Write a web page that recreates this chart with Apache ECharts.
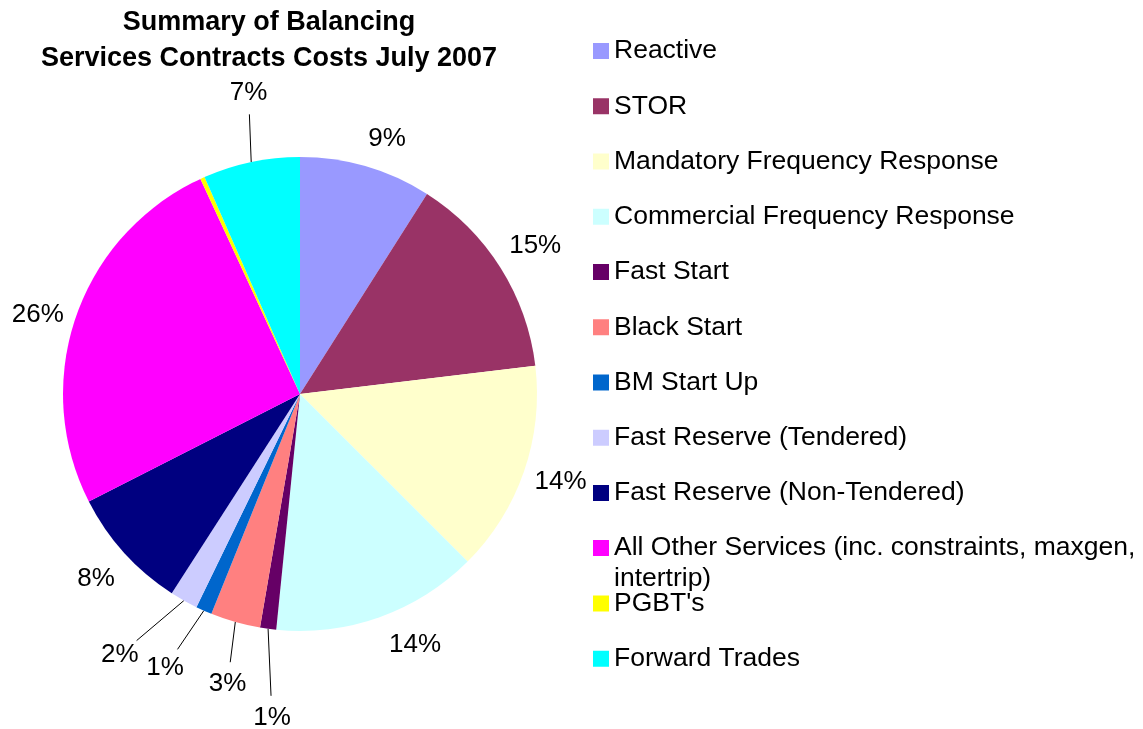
<!DOCTYPE html>
<html>
<head>
<meta charset="utf-8">
<script src="https://cdn.jsdelivr.net/npm/echarts@6/dist/echarts.min.js"></script>
<style>
  html, body { margin: 0; padding: 0; background: #fff; }
  #app { width: 1143px; height: 729px; }
</style>
</head>
<body>
<div id="app"></div>
<script>
  // data (share of total, %)
  const categories = [
    "Reactive",
    "STOR",
    "Mandatory Frequency Response",
    "Commercial Frequency Response",
    "Fast Start",
    "Black Start",
    "BM Start Up",
    "Fast Reserve (Tendered)",
    "Fast Reserve (Non-Tendered)",
    "All Other Services (inc. constraints, maxgen, intertrip)",
    "PGBT's",
    "Forward Trades",
  ];
  const costShare = [9.0, 14.1, 14.4, 14.1, 1.1, 3.4, 1.1, 1.9, 8.4, 25.6, 0.3, 6.6];
  const pctLabels = ["9%", "15%", "14%", "14%", "1%", "3%", "1%", "2%", "8%", "26%", "", "7%"];
  const colors = [
    "#9999FF", "#993366", "#FFFFCC", "#CCFFFF", "#660066", "#FF8080",
    "#0066CC", "#CCCCFF", "#000080", "#FF00FF", "#FFFF00", "#00FFFF",
  ];

  // label placement style (distance out from the rim, angle nudge in degrees)
  const labelGap = [33, 41, 38, 39, 88, 62, 68, 80, 38, 37, 0, 69];
  const labelTurn = [2.6, 0, -0.4, -5, -2.8, -1.8, 2.3, 5.3, 0, -2.2, 0, 2.2];
  const leader = [false, false, false, false, true, true, true, true, false, false, false, true];

  const cx = 300, cy = 394, R = 237;
  const font = "Arial, 'Liberation Sans', sans-serif";
  const total = costShare.reduce((a, b) => a + b, 0);

  function labelSpot(i) {
    let before = 0;
    for (let k = 0; k < i; k++) before += costShare[k];
    const a = ((before + costShare[i] / 2) / total) * 2 * Math.PI;
    const edge = [cx + R * Math.sin(a), cy - R * Math.cos(a)];
    const la = a + (labelTurn[i] * Math.PI) / 180;
    const lr = R + labelGap[i];
    const pos = [cx + lr * Math.sin(la), cy - lr * Math.cos(la)];
    const dx = pos[0] - edge[0], dy = pos[1] - edge[1];
    const len = Math.sqrt(dx * dx + dy * dy);
    const end = [pos[0] - (dx / len) * 22, pos[1] - (dy / len) * 22];
    return { edge, pos, end };
  }

  const pieData = categories.map((name, i) => ({
    name: name,
    value: costShare[i],
    itemStyle: { color: colors[i] },
    label: { show: pctLabels[i] !== "" },
    labelLine: { show: leader[i] },
  }));

  const legendText = { fontFamily: font, fontSize: 26.5, color: "#000", lineHeight: 30 };
  const legendBase = {
    orient: "vertical",
    left: 593,
    padding: 0,
    itemGap: 25.25,
    itemWidth: 16,
    itemHeight: 16,
    icon: "rect",
    selectedMode: false,
    textStyle: legendText,
  };

  const myChart = echarts.init(document.getElementById("app"));
  const option = {
    animation: false,
    backgroundColor: "#fff",
    title: {
      text: "Summary of Balancing\nServices Contracts Costs July 2007",
      left: 269,
      top: 5,
      padding: 0,
      textAlign: "center",
      textStyle: {
        fontFamily: font,
        fontSize: 27,
        fontWeight: "bold",
        color: "#000",
        lineHeight: 36,
      },
    },
    legend: [
      Object.assign({}, legendBase, { top: 36, data: categories.slice(0, 9) }),
      Object.assign({}, legendBase, {
        top: 501.5,
        data: [categories[9]],
        // empty first line keeps the first text line level with the swatch
        formatter: () => "\nAll Other Services (inc. constraints, maxgen,\nintertrip)",
        textStyle: Object.assign({}, legendText, { lineHeight: 31 }),
      }),
      Object.assign({}, legendBase, { top: 588.5, data: categories.slice(10) }),
    ],
    series: [
      {
        type: "pie",
        center: [cx, cy],
        radius: R,
        startAngle: 90,
        clockwise: true,
        avoidLabelOverlap: false,
        itemStyle: { borderWidth: 0 },
        emphasis: { disabled: true },
        label: {
          position: "outside",
          fontFamily: font,
          fontSize: 26,
          color: "#000",
          formatter: (p) => pctLabels[p.dataIndex],
        },
        labelLine: {
          lineStyle: { color: "#000", width: 1 },
        },
        labelLayout: function (params) {
          const s = labelSpot(params.dataIndex);
          const out = {
            x: s.pos[0],
            y: s.pos[1],
            align: "center",
            verticalAlign: "middle",
          };
          if (leader[params.dataIndex]) {
            out.labelLinePoints = [s.edge, s.end, s.end];
          }
          return out;
        },
        data: pieData,
      },
    ],
  };
  myChart.setOption(option);
</script>
</body>
</html>
